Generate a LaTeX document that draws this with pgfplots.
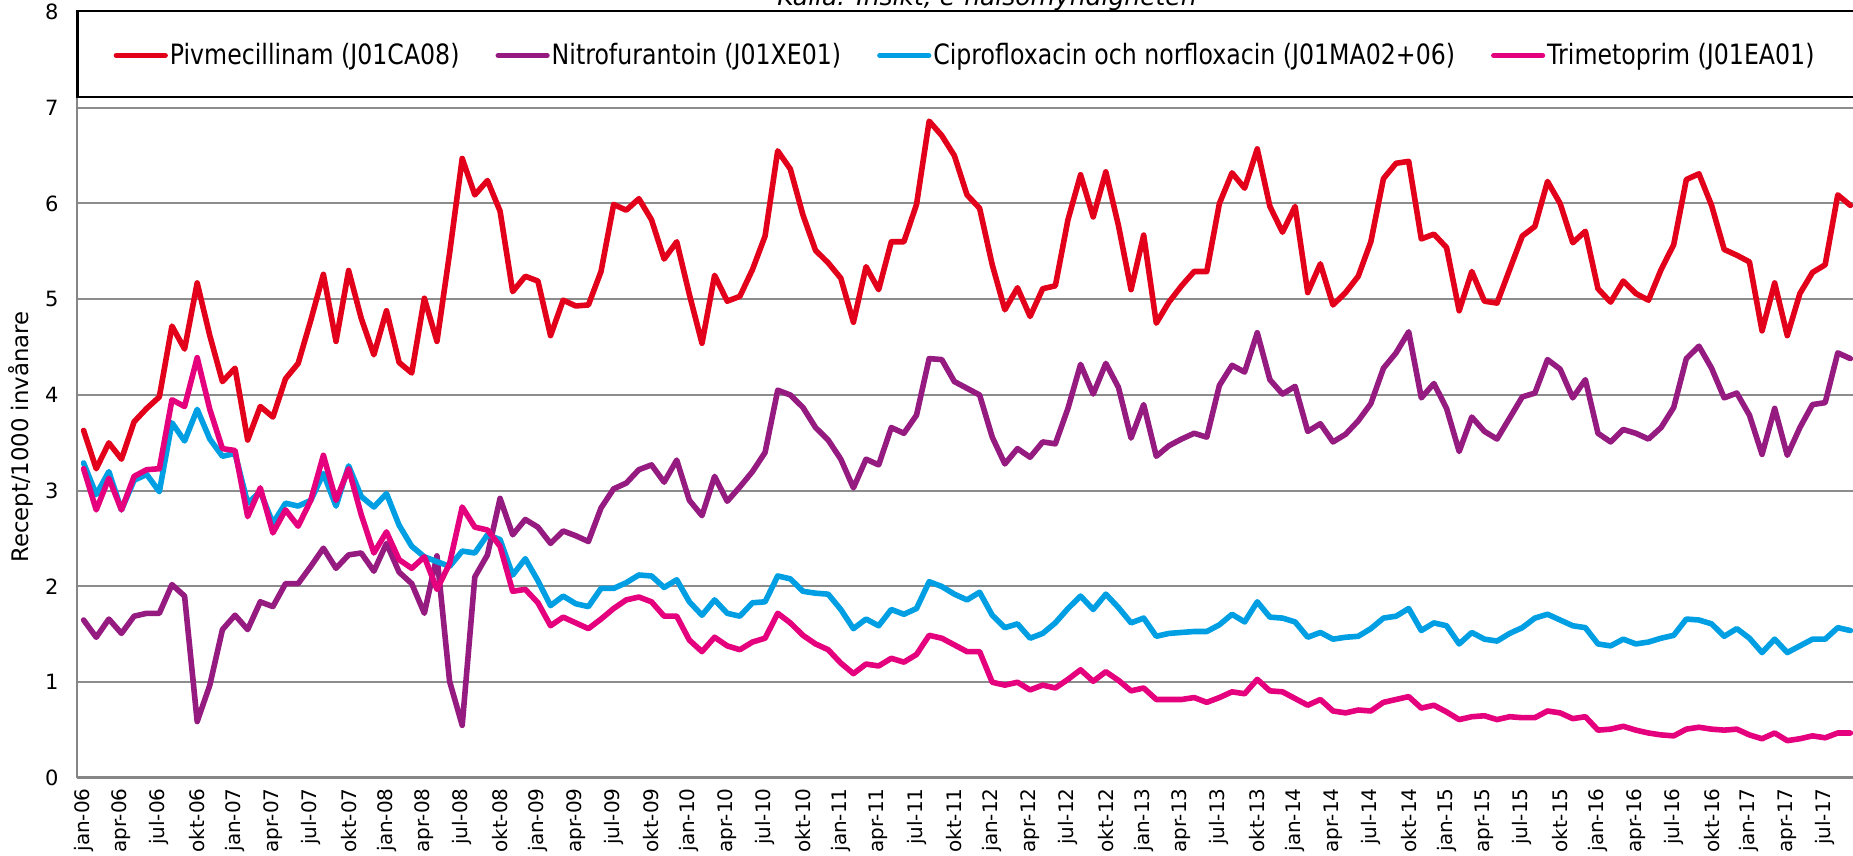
\documentclass[border=0pt]{standalone}
\usepackage{fontspec}
\setmainfont{DejaVu Sans}
\usepackage{pgfplots}
\usepackage{pgfplotstable}
\pgfplotsset{compat=1.18}
\definecolor{cRed}{HTML}{E2001A}
\definecolor{cPur}{HTML}{951B81}
\definecolor{cCya}{HTML}{009FE3}
\definecolor{cMag}{HTML}{E5007D}
\definecolor{axgray}{RGB}{134,134,134}
\definecolor{gridgray}{RGB}{140,140,140}
\pgfplotstableread{
i piv nit cip tri
0 3.63 1.65 3.29 3.23
1 3.23 1.47 2.96 2.80
2 3.50 1.66 3.20 3.13
3 3.33 1.51 2.80 2.80
4 3.72 1.69 3.11 3.15
5 3.86 1.72 3.17 3.22
6 3.98 1.72 2.99 3.23
7 4.72 2.02 3.71 3.95
8 4.48 1.90 3.52 3.88
9 5.17 0.59 3.85 4.39
10 4.62 0.97 3.54 3.85
11 4.14 1.55 3.36 3.44
12 4.28 1.70 3.39 3.42
13 3.53 1.55 2.87 2.73
14 3.88 1.84 2.99 3.03
15 3.77 1.79 2.66 2.56
16 4.17 2.03 2.87 2.80
17 4.33 2.03 2.84 2.63
18 4.78 2.21 2.90 2.90
19 5.26 2.40 3.18 3.37
20 4.56 2.19 2.84 2.90
21 5.30 2.33 3.26 3.23
22 4.80 2.35 2.94 2.75
23 4.42 2.16 2.83 2.35
24 4.88 2.45 2.97 2.57
25 4.34 2.15 2.64 2.28
26 4.23 2.03 2.42 2.19
27 5.01 1.72 2.31 2.31
28 4.56 2.32 2.26 1.97
29 5.48 1.01 2.21 2.24
30 6.47 0.55 2.37 2.83
31 6.09 2.10 2.35 2.62
32 6.24 2.33 2.54 2.59
33 5.92 2.92 2.49 2.42
34 5.08 2.54 2.12 1.95
35 5.24 2.70 2.29 1.97
36 5.19 2.62 2.06 1.83
37 4.62 2.45 1.80 1.59
38 4.99 2.58 1.90 1.68
39 4.93 2.53 1.82 1.62
40 4.94 2.47 1.79 1.56
41 5.29 2.82 1.98 1.66
42 5.99 3.02 1.98 1.77
43 5.93 3.08 2.04 1.86
44 6.05 3.22 2.12 1.89
45 5.83 3.27 2.11 1.84
46 5.42 3.09 1.99 1.69
47 5.60 3.32 2.07 1.69
48 5.05 2.90 1.84 1.44
49 4.54 2.74 1.70 1.32
50 5.25 3.15 1.86 1.47
51 4.98 2.89 1.72 1.38
52 5.03 3.04 1.69 1.34
53 5.31 3.20 1.83 1.42
54 5.66 3.40 1.84 1.46
55 6.55 4.05 2.11 1.72
56 6.36 4.00 2.08 1.62
57 5.88 3.87 1.95 1.49
58 5.51 3.66 1.93 1.40
59 5.38 3.53 1.92 1.34
60 5.22 3.33 1.76 1.20
61 4.76 3.03 1.56 1.09
62 5.34 3.33 1.66 1.19
63 5.10 3.27 1.59 1.17
64 5.60 3.66 1.76 1.25
65 5.60 3.60 1.71 1.21
66 5.99 3.79 1.77 1.29
67 6.86 4.38 2.05 1.49
68 6.71 4.37 2.00 1.46
69 6.50 4.14 1.92 1.39
70 6.09 4.07 1.86 1.32
71 5.95 4.00 1.94 1.32
72 5.36 3.56 1.70 1.00
73 4.89 3.28 1.57 0.97
74 5.12 3.44 1.61 1.00
75 4.82 3.35 1.46 0.92
76 5.11 3.51 1.51 0.97
77 5.14 3.49 1.62 0.94
78 5.83 3.86 1.77 1.03
79 6.30 4.32 1.90 1.13
80 5.86 4.01 1.76 1.01
81 6.33 4.33 1.92 1.11
82 5.77 4.08 1.78 1.02
83 5.10 3.55 1.62 0.91
84 5.67 3.90 1.67 0.94
85 4.75 3.36 1.48 0.82
86 4.97 3.47 1.51 0.82
87 5.14 3.54 1.52 0.82
88 5.29 3.60 1.53 0.84
89 5.29 3.56 1.53 0.79
90 6.00 4.10 1.60 0.84
91 6.32 4.31 1.71 0.90
92 6.16 4.24 1.63 0.88
93 6.57 4.65 1.84 1.03
94 5.97 4.16 1.68 0.91
95 5.70 4.01 1.67 0.90
96 5.97 4.09 1.63 0.83
97 5.07 3.62 1.47 0.76
98 5.37 3.70 1.52 0.82
99 4.94 3.51 1.45 0.70
100 5.07 3.59 1.47 0.68
101 5.24 3.73 1.48 0.71
102 5.60 3.91 1.56 0.70
103 6.26 4.28 1.67 0.79
104 6.42 4.44 1.69 0.82
105 6.44 4.66 1.77 0.85
106 5.63 3.97 1.54 0.73
107 5.68 4.12 1.62 0.76
108 5.54 3.86 1.59 0.69
109 4.88 3.41 1.40 0.61
110 5.29 3.77 1.52 0.64
111 4.98 3.62 1.45 0.65
112 4.96 3.54 1.43 0.61
113 5.31 3.76 1.51 0.64
114 5.66 3.98 1.57 0.63
115 5.76 4.02 1.67 0.63
116 6.23 4.37 1.71 0.70
117 6.00 4.27 1.65 0.68
118 5.59 3.97 1.59 0.62
119 5.71 4.16 1.57 0.64
120 5.11 3.60 1.40 0.50
121 4.97 3.51 1.38 0.51
122 5.19 3.64 1.45 0.54
123 5.06 3.60 1.40 0.50
124 4.99 3.54 1.42 0.47
125 5.31 3.66 1.46 0.45
126 5.57 3.87 1.49 0.44
127 6.25 4.38 1.66 0.51
128 6.31 4.51 1.65 0.53
129 5.98 4.28 1.61 0.51
130 5.52 3.97 1.48 0.50
131 5.46 4.02 1.56 0.51
132 5.39 3.79 1.46 0.45
133 4.67 3.38 1.31 0.41
134 5.17 3.86 1.45 0.47
135 4.62 3.37 1.31 0.39
136 5.06 3.66 1.38 0.41
137 5.28 3.90 1.45 0.44
138 5.36 3.92 1.45 0.42
139 6.09 4.44 1.57 0.47
140 5.98 4.38 1.54 0.47
}\data
\newcommand{\lt}[1]{\scalebox{0.845}[1]{#1}}
\begin{document}
\begin{tikzpicture}
\useasboundingbox (0,0) rectangle (926.5pt,428pt);
\node[anchor=base, font=\fontsize{12.5}{14}\selectfont\itshape] at (493.5pt,425.3pt) {Källa: Insikt, e-hälsomyndigheten};
\begin{axis}[
  at={(38.65pt,39pt)}, anchor=south west,
  scale only axis, width=887.8pt, height=383pt,
  xmin=-0.5, xmax=140.2, ymin=0, ymax=8,
  axis x line=bottom, axis y line=left,
  x axis line style={-, draw=axgray, line width=1.5pt},
  y axis line style={-, draw=axgray, line width=1.1pt},
  clip=false,
  major tick length=0pt,
  ymajorgrids, grid style={draw=gridgray, line width=1pt},
  ytick={0,1,...,8},
  xtick={0,3,...,138},
  xticklabels={jan-06,apr-06,jul-06,okt-06,jan-07,apr-07,jul-07,okt-07,jan-08,apr-08,jul-08,okt-08,jan-09,apr-09,jul-09,okt-09,jan-10,apr-10,jul-10,okt-10,jan-11,apr-11,jul-11,okt-11,jan-12,apr-12,jul-12,okt-12,jan-13,apr-13,jul-13,okt-13,jan-14,apr-14,jul-14,okt-14,jan-15,apr-15,jul-15,okt-15,jan-16,apr-16,jul-16,okt-16,jan-17,apr-17,jul-17},
  xticklabel style={rotate=90, anchor=east, inner sep=0pt, xshift=-5pt, font=\fontsize{10}{12}\selectfont},
  yticklabel style={anchor=east, inner sep=0pt, xshift=-9.2pt, font=\fontsize{10.5}{12}\selectfont},
  /pgf/number format/assume math mode=true,
  ylabel={Recept/1000 invånare},
  ylabel style={at={(axis description cs:-0.0317,0.445)}, anchor=center, font=\fontsize{11.4}{13}\selectfont},
  legend columns=4,
  legend image code/.code={\draw[#1, line width=2.6pt, line cap=round] (0pt,0pt) -- (24.5pt,0pt);},
  legend style={at={(axis description cs:0.0205,0.9432)}, anchor=west, draw=none, fill=none,
    inner sep=0pt, outer sep=0pt, font=\fontsize{14}{16}\selectfont,
    nodes={inner sep=0pt},
    /tikz/every even column/.append style={column sep=18pt},
    /tikz/every odd column/.append style={column sep=1pt}},
]
\addplot[cRed, line width=2.8pt, line join=round, line cap=round] table[x=i, y=piv] {\data};
\addplot[cPur, line width=2.8pt, line join=round, line cap=round] table[x=i, y=nit] {\data};
\addplot[cCya, line width=2.8pt, line join=round, line cap=round] table[x=i, y=cip] {\data};
\addplot[cMag, line width=2.8pt, line join=round, line cap=round] table[x=i, y=tri] {\data};
\draw[black, line width=1.2pt, fill=white] (rel axis cs:0,1.0015) rectangle ([xshift=30pt]rel axis cs:1,0.8887);
\legend{\lt{Pivmecillinam (J01CA08)},\lt{Nitrofurantoin (J01XE01)},\lt{Ciprofloxacin och norfloxacin (J01MA02+06)},\lt{Trimetoprim (J01EA01)}}
\end{axis}
\end{tikzpicture}
\end{document}
